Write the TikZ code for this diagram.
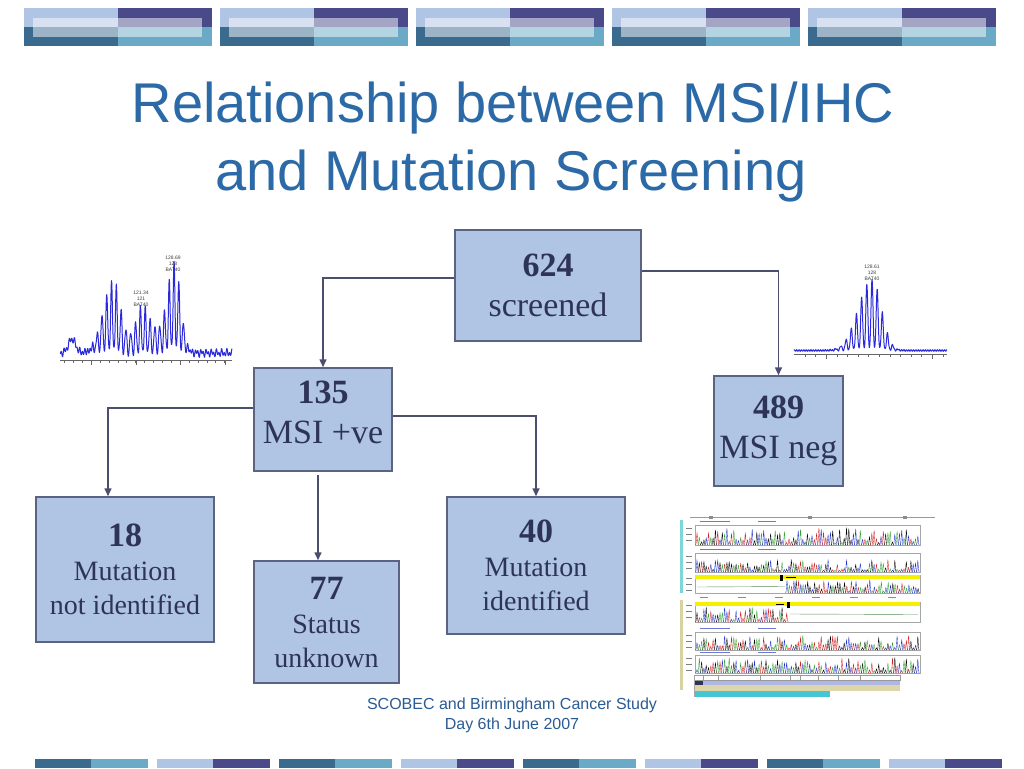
\documentclass[tikz,border=0pt]{standalone}
\usepackage{fontspec}
\setmainfont{Liberation Serif}
\newfontfamily\arialfont{Liberation Sans}
\usetikzlibrary{arrows.meta, calc}

\definecolor{titleblue}{HTML}{2B6AA6}
\definecolor{footblue}{HTML}{2A5B93}
\definecolor{boxfill}{HTML}{B0C4E4}
\definecolor{boxline}{HTML}{5A6482}
\definecolor{boxtext}{HTML}{2E3456}
\definecolor{connc}{HTML}{4B4E6D}
\definecolor{barlight}{HTML}{B0C4E4}
\definecolor{barnavy}{HTML}{4A4A8A}
\definecolor{barsteel}{HTML}{3B6A8F}
\definecolor{barteal}{HTML}{6AAAC6}
\definecolor{traceblue}{HTML}{2A2ADC}
\definecolor{trA}{HTML}{2EA02E}
\definecolor{trC}{HTML}{2030D0}
\definecolor{trT}{HTML}{D02020}
\definecolor{seqteal}{HTML}{7FD6D8}
\definecolor{seqkhaki}{HTML}{D8D2A0}
\definecolor{seqyellow}{HTML}{F4F000}
\definecolor{seqhead}{HTML}{6A78D8}
\definecolor{rowlav}{HTML}{AEB6E6}
\definecolor{rowkhaki}{HTML}{DCD6A8}
\definecolor{rowteal}{HTML}{46C6D2}

% one row of sequencer peaks: start x, number of peaks, base y, max height
\newcommand{\seqtrace}[4]{%
  \foreach \k in {0,...,#2}{%
    \pgfmathsetmacro{\px}{#1+2.3*\k}%
    \pgfmathsetmacro{\ph}{#4*(0.15+0.85*rnd)}%
    \pgfmathtruncatemacro{\pc}{random(1,4)}%
    \ifcase\pc\or\def\pcol{trA}\or\def\pcol{trC}\or\def\pcol{black}\or\def\pcol{trT}\fi
    \draw[\pcol, line width=0.35pt] (\px-1.4,#3) .. controls (\px-0.5,#3) and (\px-0.4,#3-\ph) .. (\px,#3-\ph) .. controls (\px+0.4,#3-\ph) and (\px+0.5,#3) .. (\px+1.4,#3);
  }%
}

\begin{document}
\begin{tikzpicture}[x=1pt, y=-1pt,
  declare function={g(\t,\c,\w)=exp(max(-15,-((\t-\c)/\w)^2));
                    wave(\t,\c,\p)=(1+cos((\t-\c)/\p*360))/2;},
  box/.style={draw=boxline, line width=1.5pt, fill=boxfill, text=boxtext, align=center, inner sep=0pt},
  bigbox/.style={box, font=\fontsize{34}{40}\selectfont},
  smallbox/.style={box, font=\fontsize{28}{34}\selectfont},
  conn/.style={draw=connc, line width=1.5pt, -{Triangle[length=8pt,width=7pt]}},
  title/.style={font=\arialfont\fontsize{56}{68}\selectfont, text=titleblue, anchor=base},
  foot/.style={font=\arialfont\fontsize{16}{20}\selectfont, text=footblue, anchor=base},
  peaklabel/.style={font=\arialfont\fontsize{5}{6}\selectfont, text=black!75, align=center, inner sep=0pt}]

  \useasboundingbox (0,0) rectangle (1024,768);
  \fill[white] (0,0) rectangle (1024,768);

  % banner blocks along the top
  \foreach \i in {0,...,4}{
    \pgfmathsetmacro{\bx}{24+196*\i}
    \fill[barlight] (\bx,8) rectangle (\bx+94,27.3);
    \fill[barnavy] (\bx+94,8) rectangle (\bx+188,27.3);
    \fill[barsteel] (\bx,27.3) rectangle (\bx+94,46);
    \fill[barteal] (\bx+94,27.3) rectangle (\bx+188,46);
    \fill[white, opacity=0.5] (\bx+9,17.7) rectangle (\bx+178,36.7);
  }

  % strip along the bottom
  \foreach \i in {0,2,4,6}{
    \fill[barsteel] (35+122*\i,759) rectangle (91+122*\i,768);
    \fill[barteal] (91+122*\i,759) rectangle (148+122*\i,768);
  }
  \foreach \i in {1,3,5,7}{
    \fill[barlight] (35+122*\i,759) rectangle (91+122*\i,768);
    \fill[barnavy] (91+122*\i,759) rectangle (148+122*\i,768);
  }

  % title
  \node[title] (t1) at (513,122) {Relationship between MSI/IHC};
  \node[title] (t2) at (511,190) {and Mutation Screening};

  % the flow chart
  \node[bigbox, minimum width=186pt, minimum height=111pt] (scr) at (548,285.5) {\bfseries 624\\ screened};
  \node[bigbox, minimum width=138pt, minimum height=103pt] (pos) at (323,419.5) {\bfseries 135\\ MSI +ve\\[-26pt]};
  \node[bigbox, minimum width=129pt, minimum height=110pt] (neg) at (778.5,431) {\bfseries 489\\ MSI neg};
  \node[smallbox, minimum width=178pt, minimum height=145pt] (notid) at (125,569.5) {{\fontsize{34}{35}\selectfont\bfseries 18}\\ Mutation\\ not identified};
  \node[smallbox, minimum width=145pt, minimum height=122pt] (unk) at (326.5,622) {{\fontsize{34}{35}\selectfont\bfseries 77}\\ Status\\ unknown};
  \node[smallbox, minimum width=178pt, minimum height=137pt] (ident) at (536,565.5) {{\fontsize{34}{35}\selectfont\bfseries 40}\\ Mutation\\ identified};

  \draw[conn] ([yshift=7.5pt]scr.west) -| (pos.north);
  \draw[conn] ([yshift=14.5pt]scr.east) -| (neg.north);
  \draw[conn] ([yshift=11.5pt]pos.west) -| ([xshift=-17pt]notid.north);
  \draw[conn] ([yshift=3.5pt]pos.east) -| (ident.north);
  \draw[conn] ([xshift=-5pt,yshift=-3pt]pos.south) -- ([xshift=-8.5pt]unk.north);

  % footer
  \node[foot] (f1) at (512,709) {SCOBEC and Birmingham Cancer Study};
  \node[foot] (f2) at (512,729) {Day 6th June 2007};

  % left electropherogram (unstable)
  \draw[black!60, line width=0.5pt] (60,360) -- (232,360);
  \foreach \t in {91,136,180,225}
    \draw[black!60, line width=0.5pt] (\t,360) -- ++(0,5);
  \foreach \k in {0,...,18}
    \draw[black!60, line width=0.4pt] (64.3+8.9*\k,360) -- ++(0,2.5);
  \draw[traceblue, line width=1pt, line join=round, domain=60:232, samples=700] plot (\x,{359 - (6 + 2.5*sin(137*(\x-150)) + 2*sin(71*(\x-150)+30) + 14*g(\x,72,5)
      + (70*exp(max(-15,-((\x-113)/ifthenelse(\x<113,15,10))^2)) + 28*g(\x,148,22) + 20*g(\x,142,7)
         + 86*exp(max(-15,-((\x-175)/ifthenelse(\x<175,10,8.5))^2)))*(0.05+0.5*wave(\x,174,4.8)+0.45*wave(\x,174,4.8)^2))});
  \node[peaklabel] (lab1) at (173,264) {128.69\\128\\BAT40};
  \node[peaklabel] (lab2) at (141,299) {121.34\\121\\BAT40};

  % right electropherogram (stable)
  \draw[black!60, line width=0.5pt] (794,354) -- (947,354);
  \foreach \t in {826,932}
    \draw[black!60, line width=0.5pt] (\t,354) -- ++(0,5);
  \foreach \k in {0,...,13}
    \draw[black!60, line width=0.4pt] (805+10.6*\k,354) -- ++(0,2.5);
  \draw[traceblue, line width=1pt, line join=round, domain=794:947, samples=600] plot (\x,{352 - (1.5 + 0.8*sin(151*(\x-870))
      + 72*exp(max(-15,-((\x-872)/ifthenelse(\x<872,19,13))^2))*(0.05+0.5*wave(\x,872,5.2)+0.45*wave(\x,872,5.2)^2))});
  \node[peaklabel] (lab3) at (872,273) {128.61\\128\\BAT40};

  % sequencing screenshot
  \pgfmathsetseed{11}
  \fill[white] (680,513) rectangle (938,700);
  \draw[black!40, line width=0.4pt] (690,517) -- (935,517);
  \foreach \t in {711,810,905}
    \fill[black!45] (\t-2,515.5) rectangle (\t+2,518.5);
  \fill[seqteal] (680,520) rectangle (683,593);
  \fill[seqkhaki] (680,600) rectangle (683,690);
  \foreach \ya/\yb in {525/545, 553/572, 575/593, 602/622, 632/650, 655/673}{
    \draw[black!35, line width=0.3pt] (695,\ya) rectangle (920,\yb);
    \foreach \q in {0,1,2}
      \draw[black!50, line width=0.6pt] (686,\ya+3+6*\q) -- (692,\ya+3+6*\q);
  }
  \foreach \yh in {521,549,628,652}{
    \draw[seqhead, line width=1pt] (700,\yh) -- (730,\yh);
    \draw[seqhead, line width=1pt] (758,\yh) -- (776,\yh);
  }
  \fill[seqyellow] (695,575) rectangle (920,578.5);
  \fill[seqyellow] (695,602) rectangle (920,605.5);
  \seqtrace{697}{96}{545}{17}
  \seqtrace{697}{96}{572}{12}
  \draw[trA!50!gray, line width=0.4pt] (697,587) -- (785,586.5);
  \seqtrace{787}{57}{593}{13}
  \seqtrace{697}{39}{622}{15}
  \draw[trA!50!gray, line width=0.4pt] (790,614) -- (918,614.5);
  \seqtrace{697}{96}{650}{14}
  \seqtrace{697}{96}{673}{15}
  \fill[black] (780,575) rectangle (782.5,581);
  \fill[black] (786,576.5) rectangle (796,578);
  \fill[black] (776,603.5) rectangle (784,605);
  \fill[black] (787,602) rectangle (789.5,608);
  \foreach \t in {700,738,775,812,850,888}
    \draw[black!45, line width=0.8pt] (\t,597) -- (\t+8,597);
  % table under the traces
  \fill[rowlav] (694,680) rectangle (900,685);
  \fill[boxtext] (694,680) rectangle (703,685);
  \fill[rowkhaki] (694,685) rectangle (900,691);
  \fill[rowteal] (694,691) rectangle (830,697);
  \draw[black!40, line width=0.3pt] (694,675) rectangle (900,680);
  \foreach \t in {703,718,760,790,800,818,838,860}
    \draw[black!40, line width=0.3pt] (\t,675) -- (\t,680);
  \draw[black!35, line width=0.3pt] (694,697) -- (694,675);
\end{tikzpicture}
\end{document}
